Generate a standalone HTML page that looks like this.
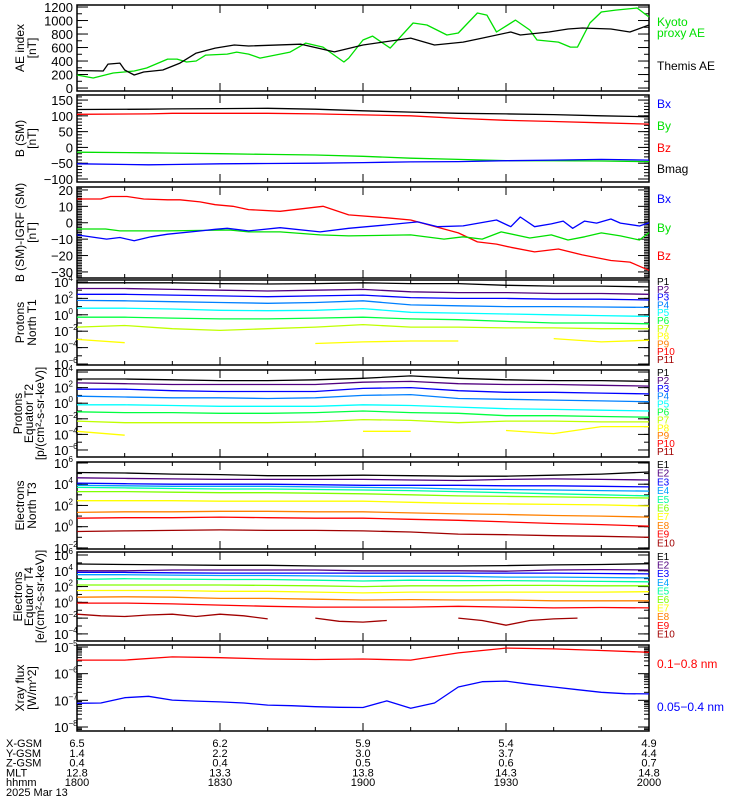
<!DOCTYPE html>
<html><head><meta charset="utf-8">
<style>
html,body{margin:0;padding:0;background:#fff;}
svg{display:block;font-family:"Liberation Sans",sans-serif;}
</style></head>
<body>
<svg id="chart" width="750" height="800" viewBox="0 0 750 800" xmlns="http://www.w3.org/2000/svg"></svg>
<script>
// ---------- DATA ----------
const T10 = [0,10,20,30,40,50,60,70,80,90,100,110,120];
const T5 = [0,5,10,15,20,25,30,35,40,45,50,55,60,65,70,75,80,85,90,95,100,105,110,115,120];

const aeThemisT = [0,5.5,6.5,9,10,12,14,18,21.6,25,29,33,36,47,54,60,70,75,81,85,91,93,99,103,106,112,116,120];
const aeThemis  = [260,252,355,370,267,193,237,267,370,518,592,637,622,650,535,637,740,637,681,740,830,785,830,874,889,874,830,933];
const aeKyotoT = [0,3.4,7.6,12,14.6,19,21,23,25,27,31.5,33.5,36,38.4,44.7,48,51.6,54.5,56,57,60,62,65.7,70.5,73.4,77.6,80,84,86,88,92,95,96.5,101,103.5,105,107.6,110,113,117.5,120];
const aeKyoto  = [193,148,222,252,296,429,429,385,400,488,503,533,503,444,533,666,607,459,385,444,711,770,592,963,933,785,815,1111,1081,830,1007,859,711,681,607,607,963,1126,1155,1185,1052];

const bT = [0,15,20,30,40,50,60,70,80,90,100,110,120];
const bMag = [120,121,122,123,124,121,116,112,108,106,104,100,97];
const bZ   = [105,106,108,108,108,106,103,100,92,86,82,78,74];
const bY   = [-15,-17,-18,-20,-22,-24,-28,-34,-38,-42,-42,-43,-45];
const bX   = [-52,-55,-54,-52,-51,-50,-48,-46,-45,-42,-40,-38,-40];

const dRedT = [0,5,7,10.5,14,19,21.6,25.8,29,32.7,36,42.6,51.6,57,65,70,80,84,88,91,96,101,106,112,116,120];
const dRed  = [14.5,14.5,16,16,14.5,14,14,12.7,11,10,8,7,10,4.8,3,1.7,-6.2,-11.7,-13,-15,-17.8,-16,-19.6,-23,-24,-29];
const dBlueT = [0,6.2,9,12,15.5,19,26,29,31.5,36,42.6,51,57,65,71.5,75.7,81,88,91,93,96,99.5,102,104,106.5,109,112,114,118,120];
const dBlue  = [-7.4,-10,-9,-11,-8.6,-7,-5,-4,-3.4,-5,-3,-5.6,-3.4,-1.3,0.5,-2.4,-1.9,1.7,-2.4,3.5,-2.4,-0.7,1,-3.4,1,-0.2,2.3,-0.2,-2,0];
const dGreenT = [0,6,9,19,32,36,42.6,51,57,70,77,81,85,89,95,99.5,103,106.5,110,114,118,120];
const dGreen  = [-3.8,-3.8,-5,-5,-4.4,-5.6,-5.6,-7.4,-8,-7.4,-10,-8.6,-10,-5.6,-9.3,-7.4,-10.5,-8.6,-6.2,-8,-10.5,-6];

// Protons North T1 (log10 flux)
const pN = [
 [3.9,3.9,3.9,3.8,3.75,3.8,3.9,3.8,3.8,3.6,3.5,3.5,3.4],
 [3.2,3.2,3.1,3.0,2.9,3.0,3.1,2.8,2.7,2.7,2.6,2.6,2.5],
 [2.5,2.5,2.4,2.3,2.2,2.3,2.4,2.1,2.0,2.0,1.9,1.9,1.8],
 [1.75,1.7,1.6,1.5,1.4,1.5,1.7,1.2,1.1,1.0,1.0,0.95,0.9],
 [0.8,0.8,0.7,0.55,0.5,0.55,0.75,0.3,0.2,0.1,0.0,-0.1,-0.2],
 [-0.3,-0.3,-0.4,-0.5,-0.5,-0.4,-0.3,-0.5,-0.6,-0.8,-1.0,-1.0,-1.1],
 [-1.5,-1.3,-1.7,-1.9,-1.7,-1.5,-1.2,-1.5,-1.5,-1.6,-1.6,-1.7,-1.7],
 [-3.0,-3.4,null,null,null,-3.5,-3.3,-3.2,-3.2,null,-2.9,-3.3,-3.1]
];
// Protons Equator T2
const pE = [
 [3.1,3.1,3.0,2.9,2.9,3.0,3.2,3.5,3.2,3.0,2.9,2.9,2.8],
 [2.6,2.5,2.4,2.4,2.4,2.4,2.7,2.8,2.5,2.4,2.4,2.3,2.2],
 [1.8,1.8,1.6,1.5,1.5,1.5,1.9,2.0,1.6,1.4,1.4,1.3,1.2],
 [0.9,0.8,0.7,0.7,0.6,0.7,1.0,1.1,0.6,0.5,0.4,0.3,0.2],
 [-0.2,-0.2,-0.3,-0.4,-0.4,-0.4,-0.2,-0.3,-0.5,-0.7,-0.8,-0.9,-1.0],
 [-1.1,-1.2,-1.2,-1.3,-1.3,-1.2,-1.0,-1.2,-1.3,-1.6,-1.6,-1.7,-1.8],
 [-2.3,-2.5,-2.5,-2.5,-2.5,-2.4,-2.1,-2.2,-2.5,-2.3,-2.3,-2.4,-2.4],
 [-3.6,-4.1,null,null,null,null,-3.6,-3.6,null,-3.5,-3.9,-3.0,-3.0]
];
// Electrons North T3
const eN = [
 [5.1,5.05,4.95,4.9,4.8,4.8,4.85,4.8,4.75,4.75,4.85,4.95,5.15],
 [4.6,4.55,4.5,4.45,4.45,4.45,4.45,4.4,4.35,4.45,4.5,4.45,4.4],
 [4.1,4.05,4.0,4.0,4.0,3.95,3.9,3.9,3.9,3.85,3.85,3.8,3.75],
 [3.9,3.85,3.8,3.8,3.8,3.75,3.7,3.65,3.55,3.5,3.45,3.4,3.35],
 [3.7,3.65,3.6,3.55,3.55,3.5,3.45,3.4,3.3,3.2,3.1,3.0,2.9],
 [3.3,3.3,3.25,3.2,3.2,3.15,3.1,3.0,2.9,2.85,2.8,2.75,2.7],
 [2.45,2.45,2.45,2.4,2.4,2.4,2.4,2.3,2.2,2.15,2.1,2.05,1.95],
 [1.35,1.4,1.4,1.45,1.45,1.4,1.4,1.3,1.2,1.15,1.05,1.0,0.9],
 [0.8,0.85,0.85,0.9,0.85,0.8,0.8,0.7,0.6,0.45,0.3,0.2,0.05],
 [-0.45,-0.4,-0.35,-0.3,-0.35,-0.35,-0.4,-0.5,-0.7,-0.75,-0.85,-0.9,-1.0]
];
// Electrons Equator T4
const eE = [
 [4.86,4.8,4.75,4.7,4.7,4.6,4.6,4.6,4.6,4.65,4.75,4.8,4.9],
 [4.0,4.0,4.1,4.1,4.1,4.1,4.0,4.0,4.0,3.95,4.1,4.15,4.1],
 [3.8,3.8,3.75,3.7,3.7,3.7,3.7,3.7,3.7,3.7,3.7,3.65,3.6],
 [3.5,3.5,3.45,3.4,3.4,3.35,3.3,3.3,3.3,3.2,3.2,3.15,3.1],
 [2.9,3.0,2.95,2.9,2.9,2.8,2.7,2.8,2.75,2.75,2.7,2.65,2.6],
 [2.2,2.2,2.2,2.2,2.15,2.1,2.0,2.1,2.1,2.15,2.15,2.1,2.1],
 [1.5,1.5,1.5,1.4,1.4,1.3,1.2,1.3,1.3,1.3,1.3,1.3,1.35],
 [0.65,0.7,0.65,0.5,0.5,0.4,0.3,0.35,0.3,0.3,0.2,0.2,0.2],
 [-0.1,-0.1,-0.2,-0.35,-0.5,-0.6,-0.6,-0.6,-0.5,-0.6,-0.7,-0.65,-0.7]
];
const eE10T = [0,5,10,15,20,25,30,35,40,45,50,55,60,65,70,75,80,85,90,95,100,105];
const eE10  = [-1.5,-1.7,-1.8,-1.6,-1.5,-1.8,-1.5,-1.7,-2.1,null,-2.0,-2.4,-2.5,-2.3,null,null,-2.0,-2.3,-2.9,-2.3,-2.1,-2.0];

const xrayLong  = [-5.49,-5.49,-5.37,-5.4,-5.45,-5.47,-5.45,-5.49,-5.22,-5.04,-5.07,-5.13,-5.2];
const xrayShort = [-7.11,-7.1,-6.9,-6.85,-6.99,-7.03,-7.06,-7.1,-7.18,-7.2,-7.24,-7.26,-7.27,-7.02,-7.3,-7.1,-6.5,-6.3,-6.28,-6.4,-6.5,-6.6,-6.7,-6.75,-6.76];

const pNames = ["P1","P2","P3","P4","P5","P6","P7","P8","P9","P10","P11"];
const eNames = ["E1","E2","E3","E4","E5","E6","E7","E8","E9","E10"];
const pColors = ["#000","#50007f","#0000ff","#0080ff","#00ffff","#00ff40","#c0ff00","#ffff00","#ff8000","#ff0000","#a00000"];
const eColors = ["#000","#50007f","#0000ff","#00a0ff","#00ffa0","#80ff00","#ffff00","#ff8000","#ff0000","#a00000"];

const ephemRows = ["X-GSM","Y-GSM","Z-GSM","MLT","hhmm"];
const ephemVals = [
 ["6.5","6.2","5.9","5.4","4.9"],
 ["1.4","2.2","3.0","3.7","4.4"],
 ["0.4","0.4","0.5","0.6","0.7"],
 ["12.8","13.3","13.8","14.3","14.8"],
 ["1800","1830","1900","1930","2000"]
];
const ephemT = [0,30,60,90,120];

// ---------- LAYOUT ----------
const NS="http://www.w3.org/2000/svg";
const svg=document.getElementById('chart');
const X0=77, X1=649, TMAX=120;
const xs=t=>X0+(X1-X0)*t/TMAX;
function el(tag,attrs,parent){const e=document.createElementNS(NS,tag);for(const k in attrs)e.setAttribute(k,attrs[k]);(parent||svg).appendChild(e);return e;}
function txt(s,x,y,attrs,parent){const e=el('text',Object.assign({x:x,y:y,'font-size':12},attrs||{}),parent);e.textContent=s;return e;}

const panels=[
 {name:'ae-panel',top:5,bot:91,min:-44,max:1230,log:false,ticks:[0,200,400,600,800,1000,1200],minor:100,labels:["AE index","[nT]"]},
 {name:'bsm-panel',top:95,bot:182,min:-109.5,max:166,log:false,ticks:[-100,-50,0,50,100,150],minor:10,labels:["B (SM)","[nT]"]},
 {name:'bdiff-panel',top:187,bot:278,min:-33.7,max:21.8,log:false,ticks:[-30,-20,-10,0,10,20],minor:1,labels:["B (SM)-IGRF (SM)","[nT]"]},
 {name:'protons-north-panel',top:280,bot:365,min:-6.12,max:4.24,log:true,ticks:[-6,-4,-2,0,2,4],labels:["Protons","North T1"]},
 {name:'protons-equator-panel',top:370,bot:457,min:-6.9,max:4.26,log:true,ticks:[-6,-4,-2,0,2,4],labels:["Protons","Equator T2","[p/(cm\u00b2-s-sr-keV)]"]},
 {name:'electrons-north-panel',top:462,bot:549,min:-2.1,max:6.09,log:true,ticks:[-2,0,2,4,6],labels:["Electrons","North T3"]},
 {name:'electrons-equator-panel',top:552,bot:641,min:-4.9,max:6.38,log:true,ticks:[-4,-2,0,2,4,6],labels:["Electrons","Equator T4","[e/(cm\u00b2-s-sr-keV)]"]},
 {name:'xray-panel',top:645,bot:731,min:-8.15,max:-4.925,log:true,ticks:[-8,-7,-6,-5],logMinor:true,labels:["Xray flux","[W/m^2]"]}
];
panels.forEach(p=>{p.ys=v=>p.bot-(p.bot-p.top)*(v-p.min)/(p.max-p.min);});

function drawLine(p,ts,vs,color,name,g){
  let segs=[],cur=[];
  for(let i=0;i<ts.length;i++){
    if(vs[i]===null||vs[i]===undefined){if(cur.length)segs.push(cur);cur=[];continue;}
    cur.push(xs(ts[i]).toFixed(1)+','+p.ys(vs[i]).toFixed(1));
  }
  if(cur.length)segs.push(cur);
  segs.forEach(s=>{
    if(s.length<2)return;
    const l=el('polyline',{points:s.join(' '),fill:'none',stroke:color,'stroke-width':1.3,'stroke-linejoin':'round'},g);
    
    
  });
}

panels.forEach((p,pi)=>{
  const g=el('g',{});
  
  
  // ticks
  const tg=el('g',{stroke:'#000','stroke-width':1},g);
  if(p.log){
    if(p.logMinor){
      for(let d=Math.floor(p.min);d<Math.ceil(p.max);d++)for(let k=2;k<10;k++){const v=d+Math.log10(k);if(v<p.min||v>p.max)continue;const y=p.ys(v);el('line',{x1:X0,x2:X0+5,y1:y,y2:y},tg);el('line',{x1:X1,x2:X1-5,y1:y,y2:y},tg);}
    } else {
      for(let d=Math.ceil(p.min);d<=p.max;d++){const y=p.ys(d);el('line',{x1:X0,x2:X0+5,y1:y,y2:y},tg);el('line',{x1:X1,x2:X1-5,y1:y,y2:y},tg);}
    }
  } else {
    for(let v=Math.ceil(p.min/p.minor)*p.minor;v<=p.max;v+=p.minor){const y=p.ys(v);el('line',{x1:X0,x2:X0+5,y1:y,y2:y},tg);el('line',{x1:X1,x2:X1-5,y1:y,y2:y},tg);}
  }
  p.ticks.forEach(v=>{
    const y=p.ys(v);
    el('line',{x1:X0,x2:X0+11,y1:y,y2:y},tg);el('line',{x1:X1,x2:X1-11,y1:y,y2:y},tg);
    if(p.log){
      const t=txt('10',62,y+5,{'text-anchor':'end','font-size':13},g);
      const s=el('tspan',{dy:-6,'font-size':8},t);s.textContent=String(v).replace('-','\u2212');
      t.setAttribute('x',54);t.setAttribute('text-anchor','start');
      
      
    } else {
      const t=txt(String(v).replace('-','\u2212'),73,y+5,{'text-anchor':'end','font-size':13},g);
      
      
    }
  });
  for(let t=10;t<TMAX;t+=10){const x=xs(t);const len=(t%30===0)?8:4;el('line',{x1:x,x2:x,y1:p.bot,y2:p.bot-len},tg);el('line',{x1:x,x2:x,y1:p.top,y2:p.top+len},tg);}
  el('rect',{x:X0,y:p.top,width:X1-X0,height:p.bot-p.top,fill:'none',stroke:'#000','stroke-width':1.5},g);
  // y-axis title
  const cy=(p.top+p.bot)/2, n=p.labels.length;
  p.labels.forEach((s,i)=>{
    const x=(n===3?[22,33,44][i]:[24,36][i]);
    const t=txt(s,x,cy,{'text-anchor':'middle','font-size':12,transform:`rotate(-90 ${x} ${cy})`},g);
    
    
  });
  p.g=g;
});

// Panel series
drawLine(panels[0],aeKyotoT,aeKyoto,'#00e000','kyoto-ae-line',panels[0].g);
drawLine(panels[0],aeThemisT,aeThemis,'#000','themis-ae-line',panels[0].g);
drawLine(panels[1],bT,bMag,'#000','bmag-line',panels[1].g);
drawLine(panels[1],bT,bZ,'#ff0000','bz-line',panels[1].g);
drawLine(panels[1],bT,bY,'#00e000','by-line',panels[1].g);
drawLine(panels[1],bT,bX,'#0000ff','bx-line',panels[1].g);
drawLine(panels[2],dRedT,dRed,'#ff0000','dbz-line',panels[2].g);
drawLine(panels[2],dGreenT,dGreen,'#00e000','dby-line',panels[2].g);
drawLine(panels[2],dBlueT,dBlue,'#0000ff','dbx-line',panels[2].g);
pN.forEach((s,i)=>drawLine(panels[3],T10,s,pColors[i],'proton-north-'+pNames[i].toLowerCase(),panels[3].g));
pE.forEach((s,i)=>drawLine(panels[4],T10,s,pColors[i],'proton-equator-'+pNames[i].toLowerCase(),panels[4].g));
eN.forEach((s,i)=>drawLine(panels[5],T10,s,eColors[i],'electron-north-'+eNames[i].toLowerCase(),panels[5].g));
eE.forEach((s,i)=>drawLine(panels[6],T10,s,eColors[i],'electron-equator-'+eNames[i].toLowerCase(),panels[6].g));
drawLine(panels[6],eE10T,eE10,eColors[9],'electron-equator-e10',panels[6].g);
drawLine(panels[7],T10,xrayLong,'#ff0000','xray-long-line',panels[7].g);
drawLine(panels[7],T5,xrayShort,'#0000ff','xray-short-line',panels[7].g);

// Legends
function leg(s,y,c,fs){const t=txt(s,657,y,{fill:c,'font-size':fs||12});}
leg('Kyoto',26,'#00e000');leg('proxy AE',37,'#00e000');leg('Themis AE',70,'#000');
leg('Bx',108,'#0000ff');leg('By',130,'#00e000');leg('Bz',152,'#ff0000');leg('Bmag',173,'#000');
leg('Bx',203,'#0000ff');leg('By',232,'#00e000');leg('Bz',260,'#ff0000');
pNames.forEach((s,i)=>{leg(s,285+i*7.8,pColors[i],10);leg(s,376+i*7.9,pColors[i],10);});
eNames.forEach((s,i)=>{leg(s,468+i*8.7,eColors[i],10);leg(s,560+i*8.6,eColors[i],10);});
leg('0.1\u22120.8 nm',668,'#ff0000');leg('0.05\u22120.4 nm',711,'#0000ff');

// Ephemeris table
ephemRows.forEach((r,i)=>{
  const y=747+i*9.8;
  const t=txt(r,6,y,{'font-size':11});
  
  
  ephemT.forEach((tt,j)=>{
    const v=txt(ephemVals[i][j],xs(tt),y,{'font-size':11,'text-anchor':'middle'});
    
    
  });
});
const d=txt('2025 Mar 13',6,796,{'font-size':11});


</script>
</body></html>
